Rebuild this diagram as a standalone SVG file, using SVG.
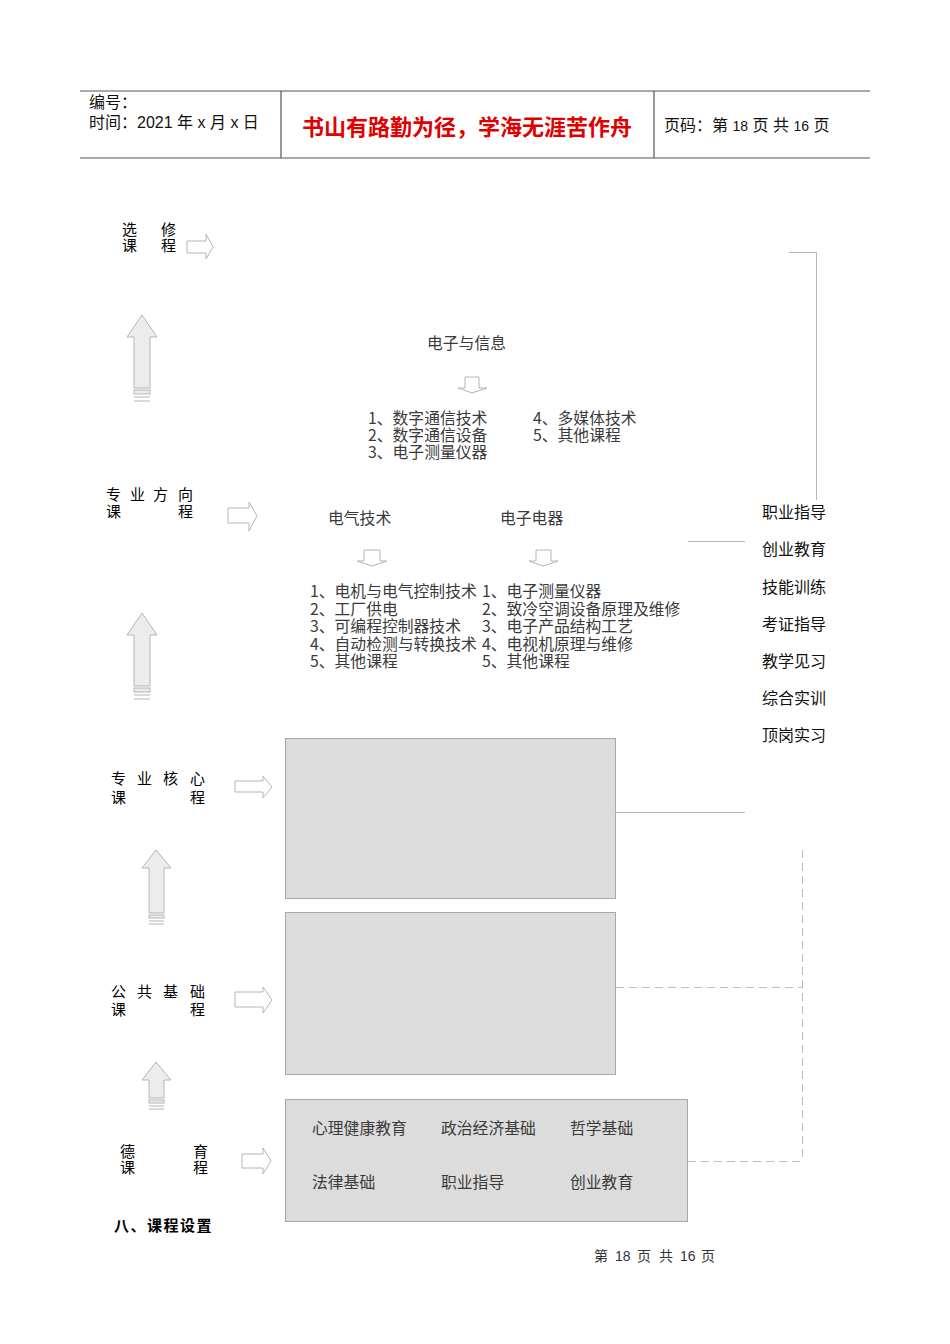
<svg xmlns="http://www.w3.org/2000/svg" width="950" height="1344" viewBox="0 0 950 1344">
<style>
.bg{fill:#fff}
.rule{stroke:#555;stroke-width:1.2;fill:none}
.hdr{font-family:"Liberation Sans","Noto Sans CJK SC",sans-serif;font-size:16px;fill:#111}
.motto{font-family:"Noto Sans CJK SC",sans-serif;font-size:22px;font-weight:bold;fill:#e00000}
.lbl{font-family:"Noto Sans CJK SC",sans-serif;font-size:15px;fill:#000}
.txt{font-family:"Noto Sans CJK SC",sans-serif;font-size:15.8px;fill:#3a3a3a}
.side{font-family:"Noto Sans CJK SC",sans-serif;font-size:16px;fill:#111}
.box{fill:#dcdcdc;stroke:#a8a8a8;stroke-width:1}
.harrow{fill:#fff;stroke:#b5b5b5;stroke-width:1}
.uarrow{fill:#ececec;stroke:#b5b5b5;stroke-width:1}
.stripe{stroke:#b5b5b5;stroke-width:1;fill:#ececec}
.line{stroke:#b5b5b5;stroke-width:1;fill:none}
.dash{stroke:#bdbdbd;stroke-width:1;fill:none;stroke-dasharray:8 5}
.foot{font-family:"Liberation Sans","Noto Sans CJK SC",sans-serif;font-size:14px;fill:#333}
</style>
<rect class="bg" x="0" y="0" width="950" height="1344"/>

<g id="header">
  <line class="rule" x1="80" y1="91" x2="870" y2="91"/>
  <line class="rule" x1="80" y1="158" x2="870" y2="158"/>
  <line class="rule" x1="281" y1="91" x2="281" y2="158"/>
  <line class="rule" x1="654" y1="91" x2="654" y2="158"/>
  <text class="hdr"><tspan x="89" y="108">编号：</tspan><tspan x="89" y="128">时间：2021 年 x 月 x 日</tspan></text>
  <text class="motto" x="302" y="135">书山有路勤为径，学海无涯苦作舟</text>
  <text class="hdr" x="664" y="131">页码：第 <tspan font-size="14">18</tspan> 页  共 <tspan font-size="14">16</tspan> 页</text>
</g>

<g id="label-elective">
  <text class="lbl"><tspan x="122" y="235">选</tspan><tspan x="161" y="235">修</tspan><tspan x="122" y="251">课</tspan><tspan x="161" y="251">程</tspan></text>
</g>
<g id="label-direction">
  <text class="lbl"><tspan x="106" y="500">专</tspan><tspan x="130" y="500">业</tspan><tspan x="153" y="500">方</tspan><tspan x="178" y="500">向</tspan><tspan x="106" y="517">课</tspan><tspan x="178" y="517">程</tspan></text>
</g>
<g id="label-core">
  <text class="lbl"><tspan x="111" y="784">专</tspan><tspan x="137" y="784">业</tspan><tspan x="163" y="784">核</tspan><tspan x="190" y="784">心</tspan><tspan x="111" y="803">课</tspan><tspan x="190" y="803">程</tspan></text>
</g>
<g id="label-public">
  <text class="lbl"><tspan x="111" y="997">公</tspan><tspan x="137" y="997">共</tspan><tspan x="163" y="997">基</tspan><tspan x="190" y="997">础</tspan><tspan x="111" y="1015">课</tspan><tspan x="190" y="1015">程</tspan></text>
</g>
<g id="label-moral">
  <text class="lbl"><tspan x="120" y="1157">德</tspan><tspan x="193" y="1157">育</tspan><tspan x="120" y="1173">课</tspan><tspan x="193" y="1173">程</tspan></text>
</g>
<g id="section-title">
  <text class="lbl" x="114" y="1231" font-size="16" font-weight="bold" letter-spacing="1.5">八、课程设置</text>
</g>

<g id="branch-electronics-info">
  <text class="txt" x="427" y="349">电子与信息</text>
  <text class="txt"><tspan x="368" y="424">1、数字通信技术</tspan><tspan x="368" y="441">2、数字通信设备</tspan><tspan x="368" y="458">3、电子测量仪器</tspan></text>
  <text class="txt"><tspan x="533" y="424">4、多媒体技术</tspan><tspan x="533" y="441">5、其他课程</tspan></text>
</g>
<g id="branch-electrical">
  <text class="txt" x="328" y="524">电气技术</text>
  <text class="txt"><tspan x="310" y="597">1、电机与电气控制技术</tspan><tspan x="310" y="615">2、工厂供电</tspan><tspan x="310" y="632">3、可编程控制器技术</tspan><tspan x="310" y="650">4、自动检测与转换技术</tspan><tspan x="310" y="667">5、其他课程</tspan></text>
</g>
<g id="branch-appliances">
  <text class="txt" x="500" y="524">电子电器</text>
  <text class="txt"><tspan x="482" y="597">1、电子测量仪器</tspan><tspan x="482" y="615">2、致冷空调设备原理及维修</tspan><tspan x="482" y="632">3、电子产品结构工艺</tspan><tspan x="482" y="650">4、电视机原理与维修</tspan><tspan x="482" y="667">5、其他课程</tspan></text>
</g>

<g id="box-core"><rect class="box" x="285.5" y="738.5" width="330" height="160"/></g>
<g id="box-public"><rect class="box" x="285.5" y="912.5" width="330" height="162"/></g>
<g id="box-moral">
  <rect class="box" x="285.5" y="1099.5" width="402" height="122"/>
  <text class="txt" x="312" y="1134">心理健康教育</text>
  <text class="txt" x="441" y="1134">政治经济基础</text>
  <text class="txt" x="570" y="1134">哲学基础</text>
  <text class="txt" x="312" y="1188">法律基础</text>
  <text class="txt" x="441" y="1188">职业指导</text>
  <text class="txt" x="570" y="1188">创业教育</text>
</g>

<g id="practice-list">
  <text class="side" x="762" y="518">职业指导</text>
  <text class="side" x="762" y="555">创业教育</text>
  <text class="side" x="762" y="593">技能训练</text>
  <text class="side" x="762" y="630">考证指导</text>
  <text class="side" x="762" y="667">教学见习</text>
  <text class="side" x="762" y="704">综合实训</text>
  <text class="side" x="762" y="741">顶岗实习</text>
</g>

<g id="connectors">
  <polygon class="harrow" points="187,241 206,241 206,234 213,247 206,259 206,253 187,253"/>
  <polygon class="harrow" points="228,508 249,508 249,502 257,516 249,531 249,523 228,523"/>
  <polygon class="harrow" points="235,781 263,781 263,776 272,787 263,798 263,792 235,792"/>
  <polygon class="harrow" points="235,992 263,992 263,987 272,1000 263,1013 263,1007 235,1007"/>
  <polygon class="harrow" points="242,1154 263,1154 263,1148 271,1161 263,1174 263,1168 242,1168"/>

  <polygon class="harrow" points="465,377 479,377 479,388 487,388 472,393 458,388 465,388"/>
  <polygon class="harrow" points="364,550 380,550 380,561 387,561 372,566 357,561 364,561"/>
  <polygon class="harrow" points="536,550 551,550 551,561 558,561 543,566 529,561 536,561"/>

  <polygon class="uarrow" points="134,388 134,337 127,337 142,315 157,337 150,337 150,388"/>
  <rect class="stripe" x="134" y="390" width="16" height="4"/>
  <line class="line" x1="134" y1="397" x2="150" y2="397"/><line class="line" x1="134" y1="401" x2="150" y2="401"/>

  <polygon class="uarrow" points="134,686 134,635 127,635 142,613 157,635 150,635 150,686"/>
  <rect class="stripe" x="134" y="688" width="16" height="4"/>
  <line class="line" x1="134" y1="695" x2="150" y2="695"/><line class="line" x1="134" y1="699" x2="150" y2="699"/>

  <polygon class="uarrow" points="149,913 149,868 142,868 156,850 171,868 164,868 164,913"/>
  <rect class="stripe" x="149" y="915" width="15" height="3"/>
  <line class="line" x1="149" y1="921" x2="164" y2="921"/><line class="line" x1="149" y1="924" x2="164" y2="924"/>

  <polygon class="uarrow" points="149,1098 149,1080 142,1080 156,1062 171,1080 164,1080 164,1098"/>
  <rect class="stripe" x="149" y="1100" width="15" height="3"/>
  <line class="line" x1="149" y1="1106" x2="164" y2="1106"/><line class="line" x1="149" y1="1109" x2="164" y2="1109"/>

  <polyline class="line" points="789,252.5 816.5,252.5 816.5,500"/>
  <line class="line" x1="688" y1="541.5" x2="745" y2="541.5"/>
  <line class="line" x1="615" y1="812.5" x2="745" y2="812.5"/>
  <line class="dash" x1="802.5" y1="850" x2="802.5" y2="1161"/>
  <line class="dash" x1="616" y1="987.5" x2="802" y2="987.5"/>
  <line class="dash" x1="688" y1="1161.5" x2="802" y2="1161.5"/>
</g>

<g id="footer">
  <text class="foot"><tspan x="594" y="1261">第</tspan><tspan x="615" y="1261">18</tspan><tspan x="637" y="1261">页</tspan><tspan x="659" y="1261">共</tspan><tspan x="680" y="1261">16</tspan><tspan x="701" y="1261">页</tspan></text>
</g>
</svg>
